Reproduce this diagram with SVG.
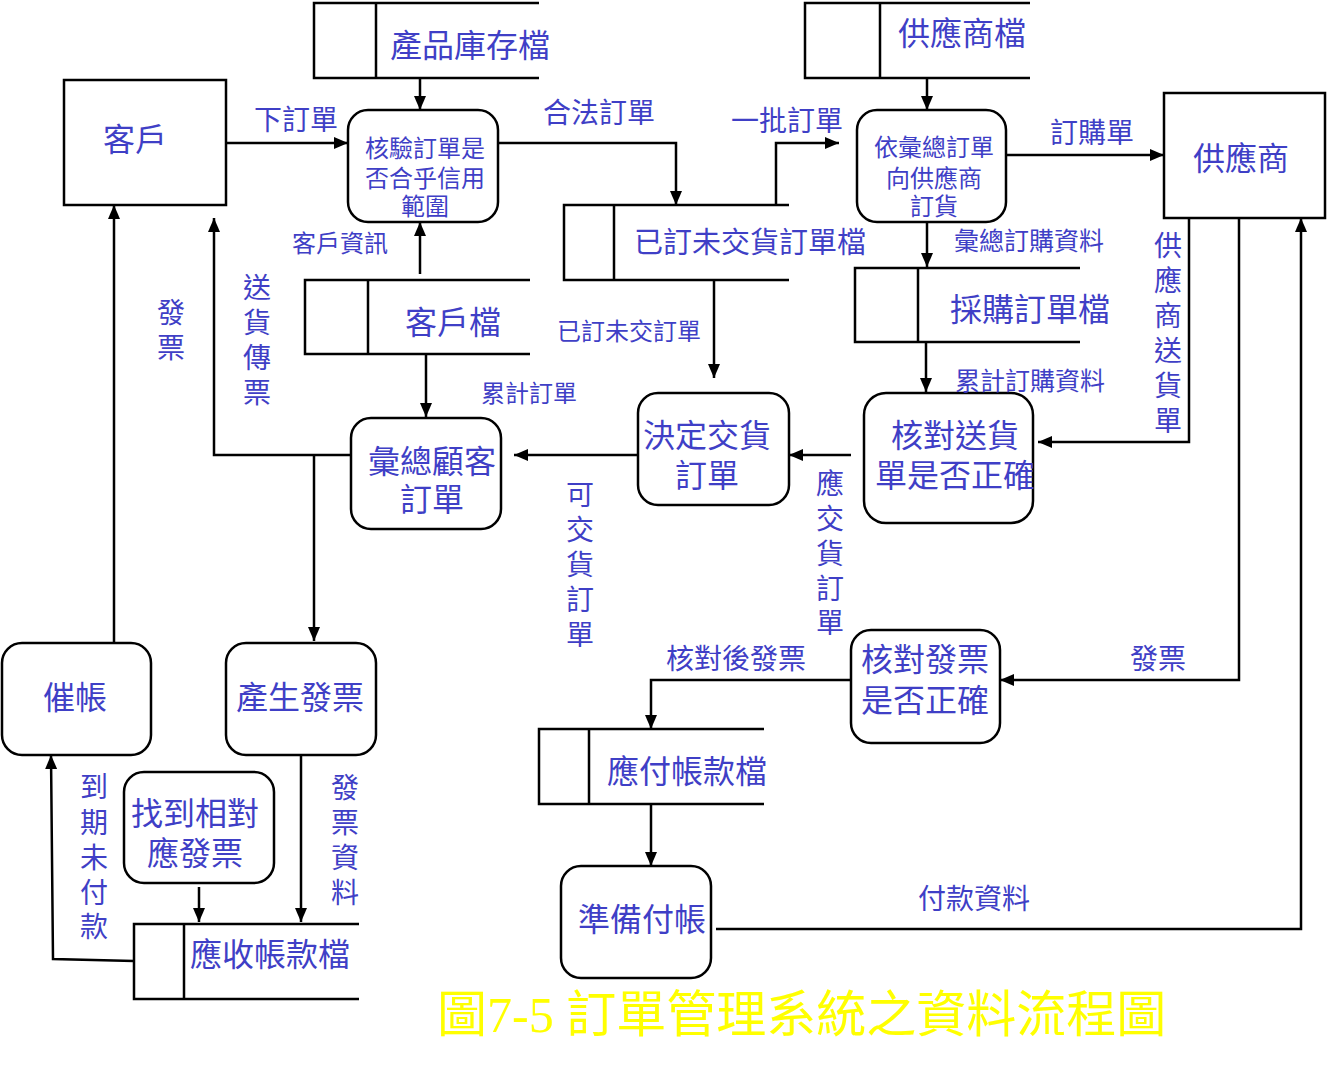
<svg xmlns="http://www.w3.org/2000/svg" width="1327" height="1073" viewBox="0 0 1327 1073">
<defs>
<marker id="ah" markerUnits="userSpaceOnUse" markerWidth="14" markerHeight="12" refX="14" refY="6" orient="auto">
<path d="M0,0 L14,6 L0,12 z" fill="#000"/>
</marker>
<style>
.box{fill:#fff;stroke:#000;stroke-width:2.5}
.proc{fill:#fff;stroke:#000;stroke-width:2.5}
.st{fill:none;stroke:#000;stroke-width:2.5}
.c{fill:none;stroke:#000;stroke-width:2.5;marker-end:url(#ah)}
text{font-family:"Liberation Sans","Noto Sans CJK TC","Noto Sans CJK SC",sans-serif;fill:#3f3fc6;text-anchor:middle;dominant-baseline:central}
.f32{font-size:32px}
.f24{font-size:24px}
.f28{font-size:28px}
.title{font-family:"Liberation Serif","Noto Sans CJK TC",serif;font-size:50px;fill:#ffff00;text-anchor:start}
</style>
</defs>
<rect width="1327" height="1073" fill="#fff"/>

<g id="connectors">
<path class="c" d="M420,78 V110"/>
<path class="c" d="M226,143 H348"/>
<path class="c" d="M497,143 H676 V205"/>
<path class="c" d="M776,205 V143 H839"/>
<path class="c" d="M927,78 V110"/>
<path class="c" d="M1001,155 H1164"/>
<path class="c" d="M927,222 V267"/>
<path class="c" d="M926,342 V392"/>
<path class="c" d="M1189,218 V442 H1038"/>
<path class="c" d="M851,455 H789"/>
<path class="c" d="M714,280 V378"/>
<path class="c" d="M638,455 H514"/>
<path class="c" d="M426,354 V417"/>
<path class="c" d="M420,274 V222"/>
<path class="c" d="M351,455 H214 V218"/>
<path class="c" d="M314,455 V641"/>
<path class="c" d="M114,643 V205"/>
<path class="c" d="M134,961 L53,959 L51,755"/>
<path class="c" d="M199,887 V922"/>
<path class="c" d="M301,755 V922"/>
<path class="c" d="M1239,218 V680 H1000"/>
<path class="c" d="M851,680 H651 V729"/>
<path class="c" d="M651,804 V866"/>
<path class="c" d="M716,929 H1301 V218"/>
</g>

<g id="n-kehu">
<rect class="box" x="64" y="80" width="162" height="125"/>
<text class="f32" x="135" y="140">客戶</text>
</g>
<g id="n-gongyingshang">
<rect class="box" x="1164" y="93" width="161" height="125"/>
<text class="f32" x="1241" y="159">供應商</text>
</g>

<g id="s-chanpin">
<path class="st" d="M539,3 H314 V78 H539 M376,3 V78"/>
<text class="f32" x="470" y="46">產品庫存檔</text>
</g>
<g id="s-gongyingshangdang">
<path class="st" d="M1030,3 H805 V78 H1030 M880,3 V78"/>
<text class="f32" x="962" y="34">供應商檔</text>
</g>
<g id="s-yiding">
<path class="st" d="M789,205 H564 V280 H789 M614,205 V280"/>
<text x="750" y="243" style="font-size:29px">已訂未交貨訂單檔</text>
</g>
<g id="s-kehudang">
<path class="st" d="M530,280 H305 V354 H530 M368,280 V354"/>
<text class="f32" x="453" y="323">客戶檔</text>
</g>
<g id="s-caigou">
<path class="st" d="M1080,268 H855 V342 H1080 M918,268 V342"/>
<text class="f32" x="1030" y="310">採購訂單檔</text>
</g>
<g id="s-yingfu">
<path class="st" d="M764,729 H539 V804 H764 M589,729 V804"/>
<text class="f32" x="687" y="772">應付帳款檔</text>
</g>
<g id="s-yingshou">
<path class="st" d="M359,924 H134 V999 H359 M184,924 V999"/>
<text class="f32" x="270" y="955">應收帳款檔</text>
</g>

<g id="p-heyan">
<rect class="proc" x="348" y="110" width="150" height="112" rx="20"/>
<text class="f24" x="425" y="148">核驗訂單是</text>
<text class="f24" x="425" y="178">否合乎信用</text>
<text class="f24" x="425" y="206">範圍</text>
</g>
<g id="p-yihuizong">
<rect class="proc" x="857" y="110" width="149" height="112" rx="20"/>
<text class="f24" x="934" y="147">依彙總訂單</text>
<text class="f24" x="934" y="178">向供應商</text>
<text class="f24" x="934" y="206">訂貨</text>
</g>
<g id="p-huizongguke">
<rect class="proc" x="351" y="418" width="150" height="111" rx="20"/>
<text class="f32" x="432" y="462">彙總顧客</text>
<text class="f32" x="432" y="500">訂單</text>
</g>
<g id="p-jueding">
<rect class="proc" x="638" y="393" width="151" height="112" rx="20"/>
<text class="f32" x="707" y="436">決定交貨</text>
<text class="f32" x="707" y="476">訂單</text>
</g>
<g id="p-heduisonghuo">
<rect class="proc" x="864" y="393" width="169" height="130" rx="22"/>
<text class="f32" x="955" y="436">核對送貨</text>
<text class="f32" x="955" y="476">單是否正確</text>
</g>
<g id="p-heduifapiao">
<rect class="proc" x="851" y="630" width="149" height="113" rx="20"/>
<text class="f32" x="925" y="660">核對發票</text>
<text class="f32" x="925" y="701">是否正確</text>
</g>
<g id="p-zhunbei">
<rect class="proc" x="561" y="866" width="150" height="112" rx="20"/>
<text class="f32" x="642" y="920">準備付帳</text>
</g>
<g id="p-cuizhang">
<rect class="proc" x="2" y="643" width="149" height="112" rx="20"/>
<text class="f32" x="75" y="698">催帳</text>
</g>
<g id="p-chansheng">
<rect class="proc" x="226" y="643" width="150" height="112" rx="20"/>
<text class="f32" x="300" y="698">產生發票</text>
</g>
<g id="p-zhaodao">
<rect class="proc" x="124" y="772" width="150" height="111" rx="20"/>
<text class="f32" x="195" y="814">找到相對</text>
<text class="f32" x="195" y="854">應發票</text>
</g>

<g id="labels">
<text class="f28" x="296" y="120">下訂單</text>
<text class="f28" x="599" y="113">合法訂單</text>
<text class="f28" x="787" y="121">一批訂單</text>
<text class="f28" x="1092" y="133">訂購單</text>
<text x="1029" y="241" style="font-size:25px">彙總訂購資料</text>
<text x="1030" y="381" style="font-size:25px">累計訂購資料</text>
<text class="f24" x="340" y="243">客戶資訊</text>
<text class="f24" x="629" y="331">已訂未交訂單</text>
<text class="f24" x="529" y="393">累計訂單</text>
<text class="f28" x="736" y="659">核對後發票</text>
<text class="f28" x="1158" y="659">發票</text>
<text class="f28" x="974" y="899">付款資料</text>
<text class="f28"><tspan x="171" y="313">發</tspan><tspan x="171" y="348">票</tspan></text>
<text class="f28"><tspan x="257" y="288">送</tspan><tspan x="257" y="323">貨</tspan><tspan x="257" y="358">傳</tspan><tspan x="257" y="393">票</tspan></text>
<text class="f28"><tspan x="1168" y="246">供</tspan><tspan x="1168" y="281">應</tspan><tspan x="1168" y="316">商</tspan><tspan x="1168" y="351">送</tspan><tspan x="1168" y="386">貨</tspan><tspan x="1168" y="421">單</tspan></text>
<text class="f28"><tspan x="830" y="484">應</tspan><tspan x="830" y="519">交</tspan><tspan x="830" y="554">貨</tspan><tspan x="830" y="589">訂</tspan><tspan x="830" y="623">單</tspan></text>
<text class="f28"><tspan x="580" y="495">可</tspan><tspan x="580" y="530">交</tspan><tspan x="580" y="565">貨</tspan><tspan x="580" y="600">訂</tspan><tspan x="580" y="635">單</tspan></text>
<text class="f28"><tspan x="94" y="787">到</tspan><tspan x="94" y="823">期</tspan><tspan x="94" y="858">未</tspan><tspan x="94" y="893">付</tspan><tspan x="94" y="927">款</tspan></text>
<text class="f28"><tspan x="345" y="788">發</tspan><tspan x="345" y="823">票</tspan><tspan x="345" y="858">資</tspan><tspan x="345" y="893">料</tspan></text>
</g>

<text class="title" x="437" y="1015">圖7-5 訂單管理系統之資料流程圖</text>
</svg>
